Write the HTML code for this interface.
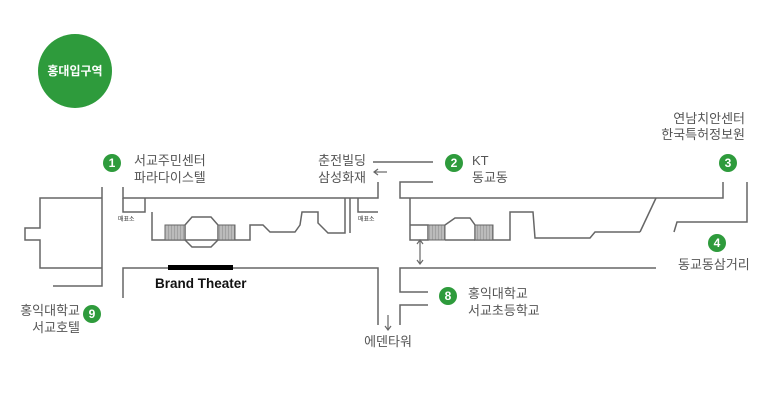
<!DOCTYPE html>
<html><head><meta charset="utf-8"><style>
html,body{margin:0;padding:0;background:#fff;}
svg{display:block;}
text{font-family:"Liberation Sans","Noto Sans CJK KR",sans-serif;}
.t{fill:#555;font-size:13px;}
.c{fill:#2e9b3c;}
.n{fill:#fff;font-size:12px;font-weight:bold;text-anchor:middle;}
</style></head><body>
<svg width="773" height="417" viewBox="0 0 773 417" xmlns="http://www.w3.org/2000/svg">
<defs>
<pattern id="h" width="3" height="3" patternUnits="userSpaceOnUse"><rect width="3" height="3" fill="#bbb"/><line x1="0" y1="0" x2="0" y2="3" stroke="#888" stroke-width="1"/></pattern>
</defs>
<circle class="c" cx="75" cy="71" r="37"/>
<text x="75" y="75" class="n" style="font-size:12px">홍대입구역</text>

<g fill="none" stroke="#666" stroke-width="1.5">
<polyline points="102,187 102,286 53,286"/>
<polyline points="102,198 40,198 40,228 25,228 25,240 40,240 40,268 102,268"/>
<polyline points="123,187 123,198 378,198 378,182"/>
<line x1="373" y1="162" x2="433" y2="162"/>
<polyline points="433,182 400,182 400,198 723,198 723,182"/>
<line x1="656" y1="198" x2="640" y2="232"/>
<polyline points="123,198 123,212 145,212 145,198"/>
<polyline points="152,212 152,240 250,240 250,225 263,225 270,232 295,232 300,225 302,212 318,212 318,223 328,233 345,233 345,198"/>
<line x1="350" y1="198" x2="350" y2="233"/>
<polyline points="358,198 358,212 378,212"/>
<polygon points="185,225 192,217 211,217 218,225 218,240 211,247 192,247 185,240"/>
<polyline points="123,298 123,268 378,268 378,325"/>
<polyline points="656,268 400,268 400,292 428,292"/>
<polyline points="428,305 400,305 400,325"/>
<polyline points="410,198 410,240 428,240 428,225 410,225"/>
<polyline points="445,225 455,218 470,218 475,225 475,240 510,240 510,212 533,212 535,238 590,238 595,232 640,232"/>
<line x1="445" y1="240" x2="475" y2="240"/>
<polyline points="747,182 747,222 677,222 674,232"/>
</g>
<rect x="165" y="225" width="20" height="15" fill="url(#h)" stroke="#666"/>
<rect x="218" y="225" width="17" height="15" fill="url(#h)" stroke="#666"/>
<rect x="428" y="225" width="17" height="15" fill="url(#h)" stroke="#666"/>
<rect x="475" y="225" width="18" height="15" fill="url(#h)" stroke="#666"/>
<g stroke="#666" stroke-width="1.2" fill="none">
<line x1="374" y1="172" x2="387" y2="172"/><polyline points="378,169 374,172 378,175"/>
<line x1="388" y1="315" x2="388" y2="330"/><polyline points="385,326 388,330 391,326"/>
<line x1="420" y1="240" x2="420" y2="264"/><polyline points="417,244 420,240 423,244"/><polyline points="417,260 420,264 423,260"/>
</g>
<rect x="168" y="265" width="65" height="5" fill="#000"/>
<text x="155" y="288" style="font-size:13.5px;font-weight:bold;fill:#111">Brand Theater</text>
<text x="118" y="221" style="font-size:6px;fill:#333">매표소</text>
<text x="358" y="221" style="font-size:6px;fill:#333">매표소</text>

<circle class="c" cx="112" cy="163" r="9"/><text x="112" y="167" class="n">1</text>
<circle class="c" cx="454" cy="163" r="9"/><text x="454" y="167" class="n">2</text>
<circle class="c" cx="728" cy="163" r="9"/><text x="728" y="167" class="n">3</text>
<circle class="c" cx="717" cy="243" r="9"/><text x="717" y="247" class="n">4</text>
<circle class="c" cx="448" cy="296" r="9"/><text x="448" y="300" class="n">8</text>
<circle class="c" cx="92" cy="314" r="9"/><text x="92" y="318" class="n">9</text>

<text x="134" y="165" class="t">서교주민센터</text>
<text x="134" y="182" class="t">파라다이스텔</text>
<text x="366" y="165" class="t" text-anchor="end">춘전빌딩</text>
<text x="366" y="182" class="t" text-anchor="end">삼성화재</text>
<text x="472" y="165" class="t">KT</text>
<text x="472" y="182" class="t">동교동</text>
<text x="745" y="123" class="t" text-anchor="end">연남치안센터</text>
<text x="745" y="139" class="t" text-anchor="end">한국특허정보원</text>
<text x="678" y="269" class="t">동교동삼거리</text>
<text x="468" y="298" class="t">홍익대학교</text>
<text x="468" y="315" class="t">서교초등학교</text>
<text x="80" y="315" class="t" text-anchor="end">홍익대학교</text>
<text x="80" y="332" class="t" text-anchor="end">서교호텔</text>
<text x="388" y="346" class="t" text-anchor="middle">에덴타워</text>
</svg>
</body></html>
